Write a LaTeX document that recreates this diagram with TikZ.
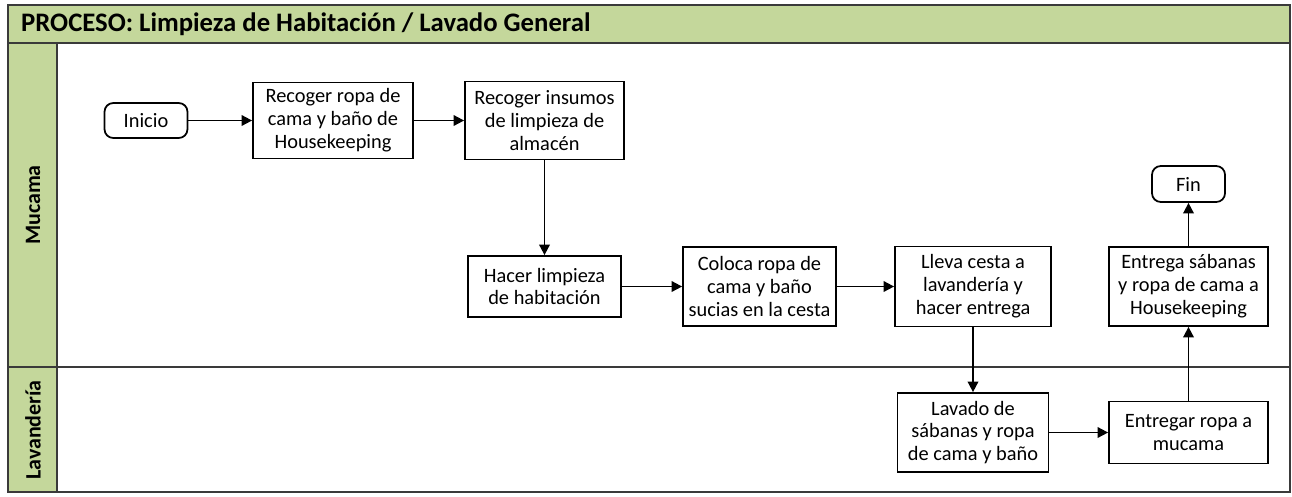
\documentclass[tikz,border=0pt]{standalone}
\usepackage{fontspec}
\setmainfont{Carlito}
\usetikzlibrary{positioning, arrows.meta, calc}
\usepackage{xcolor}
\definecolor{lanegreen}{HTML}{C4D79B}
\definecolor{frameline}{HTML}{3A3A3A}

\begin{document}
\begin{tikzpicture}[font=\fontsize{11.6}{13}\selectfont,
    act/.style={draw=black, line width=1pt, fill=white, align=center, inner sep=2pt},
    term/.style={act, rounded corners=5pt},
    flow/.style={black, line width=1pt, -{Triangle[length=6pt, width=6pt]}}]
    \useasboundingbox (0,0) rectangle (25.84,-9.92);
    % lanes
    \fill[lanegreen] (0.16,-0.1) rectangle (25.8,-0.86);
    \fill[lanegreen] (0.16,-0.86) rectangle (1.14,-9.84);
    \draw[frameline, line width=0.9pt] (0.16,-0.1) rectangle (25.8,-9.84);
    \draw[frameline, line width=0.9pt] (0.16,-0.86) -- (25.8,-0.86);
    \draw[frameline, line width=0.9pt] (1.14,-0.86) -- (1.14,-9.84);
    \draw[frameline, line width=0.9pt] (0.16,-7.34) -- (25.8,-7.34);
    \node[anchor=west, font=\fontsize{15.2}{17}\selectfont\bfseries] (title) at (0.3,-0.48)
        {PROCESO: Limpieza de Habitación / Lavado General};
    \node[rotate=90, font=\fontsize{12.5}{14}\selectfont\bfseries] (muc) at (0.66,-4.1) {Mucama};
    \node[rotate=90, font=\fontsize{12.5}{14}\selectfont\bfseries] (lav) at (0.66,-8.6) {Lavandería};
    % Mucama
    \node[term, minimum width=1.66cm, minimum height=0.7cm] (ini) at (2.92,-2.41) {Inicio};
    \node[act, minimum width=3.2cm, minimum height=1.52cm] (ropa) at (6.66,-2.41)
        {Recoger ropa de\\cama y baño de\\Housekeeping};
    \node[act, minimum width=3.18cm, minimum height=1.56cm] (ins) at (10.89,-2.41)
        {Recoger insumos\\de limpieza de\\almacén};
    \node[act, minimum width=3.06cm, minimum height=1.22cm] (limp) at (10.89,-5.73)
        {Hacer limpieza\\de habitación};
    \node[act, minimum width=3.06cm, minimum height=1.58cm] (cesta) at (15.19,-5.73)
        {Coloca ropa de\\cama y baño\\sucias en la cesta};
    \node[act, minimum width=3.12cm, minimum height=1.6cm] (lleva) at (19.46,-5.73)
        {Lleva cesta a\\lavandería y\\hacer entrega};
    \node[act, minimum width=3.18cm, minimum height=1.58cm] (devol) at (23.77,-5.73)
        {Entrega sábanas\\y ropa de cama a\\Housekeeping};
    \node[term, minimum width=1.46cm, minimum height=0.72cm] (fin) at (23.77,-3.68) {Fin};
    % Lavanderia
    \node[act, minimum width=3.02cm, minimum height=1.58cm] (lavado) at (19.46,-8.65)
        {Lavado de\\sábanas y ropa\\de cama y baño};
    \node[act, minimum width=3.18cm, minimum height=1.24cm] (entr) at (23.77,-8.65)
        {Entregar ropa a\\mucama};
    % flujo
    \draw[flow] (ini) -- (ropa);
    \draw[flow] (ropa) -- (ins);
    \draw[flow] (ins) -- (limp);
    \draw[flow] (limp) -- (cesta);
    \draw[flow] (cesta) -- (lleva);
    \draw[flow] (lleva) -- (lavado);
    \draw[flow] (lavado) -- (entr);
    \draw[flow] (entr) -- (devol);
    \draw[flow] (devol) -- (fin);
\end{tikzpicture}
\end{document}
